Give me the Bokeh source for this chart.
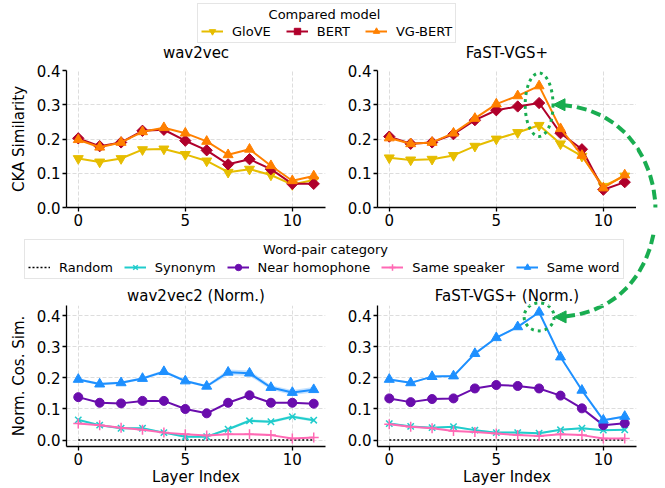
import numpy as np
from bokeh.plotting import figure
from bokeh.layouts import column, row
from bokeh.models import (Range1d, FixedTicker, PrintfTickFormatter, Legend, LegendItem,
                          Label, Arrow, NormalHead, ColumnDataSource)
from bokeh.embed import file_html
from bokeh.resources import INLINE

# ---------------- data ----------------
layers = [0, 1, 2, 3, 4, 5, 6, 7, 8, 9, 10, 11]
x_ticks = [0, 5, 10]
y_ticks = [0.0, 0.1, 0.2, 0.3, 0.4]

# CKA similarity (top row)
glove_w2v = [0.143, 0.133, 0.143, 0.169, 0.171, 0.155, 0.136, 0.103, 0.112, 0.095, 0.067, 0.080]
bert_w2v = [0.202, 0.179, 0.190, 0.224, 0.227, 0.195, 0.167, 0.126, 0.141, 0.112, 0.069, 0.069]
vgbert_w2v = [0.198, 0.176, 0.190, 0.221, 0.233, 0.217, 0.193, 0.154, 0.170, 0.122, 0.078, 0.092]
glove_fast = [0.145, 0.139, 0.141, 0.152, 0.179, 0.200, 0.219, 0.240, 0.186, 0.150, 0.062, 0.092]
bert_fast = [0.207, 0.186, 0.190, 0.214, 0.255, 0.284, 0.295, 0.305, 0.217, 0.170, 0.052, 0.074]
vgbert_fast = [0.203, 0.186, 0.190, 0.217, 0.260, 0.302, 0.326, 0.355, 0.230, 0.152, 0.057, 0.095]

# Normalised cosine similarity (bottom row)
rand_w2v2 = [0.0, 0.0, 0.0, 0.0, 0.0, 0.0, 0.0, 0.0, 0.0, 0.0, 0.0, 0.0]
syn_w2v2 = [0.065, 0.048, 0.038, 0.038, 0.024, 0.011, 0.011, 0.035, 0.062, 0.059, 0.075, 0.064]
nh_w2v2 = [0.138, 0.120, 0.118, 0.126, 0.126, 0.100, 0.086, 0.120, 0.144, 0.120, 0.120, 0.117]
ss_w2v2 = [0.053, 0.048, 0.040, 0.033, 0.024, 0.019, 0.015, 0.019, 0.019, 0.016, 0.005, 0.008]
sw_w2v2 = [0.195, 0.180, 0.184, 0.198, 0.220, 0.190, 0.173, 0.218, 0.215, 0.169, 0.153, 0.162]
sw_w2v2_err = [0.004, 0.004, 0.004, 0.004, 0.005, 0.004, 0.004, 0.009, 0.009, 0.007, 0.008, 0.009]
syn_w2v2_err = [0.004, 0.003, 0.003, 0.003, 0.003, 0.003, 0.003, 0.004, 0.005, 0.005, 0.005, 0.005]

rand_fast = [0.0, 0.0, 0.0, 0.0, 0.0, 0.0, 0.0, 0.0, 0.0, 0.0, 0.0, 0.0]
syn_fast = [0.053, 0.044, 0.040, 0.043, 0.032, 0.024, 0.024, 0.022, 0.033, 0.038, 0.032, 0.033]
nh_fast = [0.134, 0.122, 0.132, 0.134, 0.166, 0.177, 0.174, 0.166, 0.143, 0.102, 0.048, 0.054]
ss_fast = [0.051, 0.043, 0.038, 0.029, 0.026, 0.021, 0.016, 0.013, 0.019, 0.016, 0.005, 0.005]
sw_fast = [0.195, 0.184, 0.204, 0.206, 0.278, 0.329, 0.364, 0.411, 0.267, 0.160, 0.064, 0.076]
sw_fast_err = [0.003, 0.003, 0.003, 0.003, 0.003, 0.003, 0.003, 0.003, 0.003, 0.003, 0.003, 0.003]
syn_fast_err = [0.003, 0.003, 0.003, 0.003, 0.003, 0.003, 0.003, 0.003, 0.003, 0.003, 0.003, 0.003]

# ---------------- style ----------------
FONT = "DejaVu Sans"
C_GLOVE, C_BERT, C_VG = "#e6bd00", "#b0002b", "#ff8000"
C_RAND, C_SYN, C_NH, C_SS, C_SW = "black", "#20cccc", "#6a0dad", "#ff69b4", "#1e90ff"
GREEN = "#19ad50"

XMIN, XMAX = -0.55, 11.55
TOP_Y = (0.0, 0.4)
BOT_Y = (-0.0206, 0.4326)

FRAME_W = 259
TL_W, TR_W, STRIP_W = 340, 296, 29
BL_W, BR_W = 340, 325
TOTAL_W = TL_W + TR_W + STRIP_W
L1_H, TOP_H, L2_H, BOT_H = 61, 173, 71, 183
LB_L, LB_R = 66, 15       # left panels borders
RB_L = 37                 # right panels left border
TB_T, TB_B = 9, 27        # top panels borders
BB_T, BB_B = 0, 42        # bottom panels borders


def panel(width, bl, br, height, bt, bb, yr, ylabel=None, xlabel=None):
    p = figure(width=width, height=height, x_range=Range1d(XMIN, XMAX), y_range=Range1d(*yr),
               min_border_left=bl, min_border_right=br, min_border_top=bt, min_border_bottom=bb,
               output_backend="svg", toolbar_location=None)
    p.outline_line_color = None
    p.xaxis.ticker = FixedTicker(ticks=x_ticks)
    p.yaxis.ticker = FixedTicker(ticks=y_ticks)
    p.yaxis.formatter = PrintfTickFormatter(format="%.1f")
    for ax in p.axis:
        ax.axis_line_color = "black"
        ax.axis_line_width = 1.3
        ax.major_tick_line_color = "black"
        ax.major_tick_line_width = 1.3
        ax.major_tick_out = 4
        ax.major_tick_in = 0
        ax.minor_tick_line_color = None
        ax.major_label_text_font = FONT
        ax.major_label_text_font_size = "15px"
        ax.major_label_text_color = "black"
        ax.major_label_standoff = 2
        ax.axis_label_text_font = FONT
        ax.axis_label_text_font_size = "15px"
        ax.axis_label_text_font_style = "normal"
        ax.axis_label_text_color = "black"
    p.xaxis.axis_label_standoff = 0
    p.yaxis.axis_label_standoff = 6
    if ylabel:
        p.yaxis.axis_label = ylabel
    if xlabel:
        p.xaxis.axis_label = xlabel
    p.grid.grid_line_color = "#d4d4d4"
    p.grid.grid_line_dash = "4 2"
    p.grid.grid_line_width = 0.8
    return p


def series(p, ys, color, marker, size, angle=0.0, lw=2, mlw=1, fill=True):
    p.line(layers, ys, line_color=color, line_width=lw)
    p.scatter(layers, ys, marker=marker, size=size, angle=angle, line_color=color,
              fill_color=color if fill else None, line_width=mlw)


def band(p, ys, err, color):
    lo = [a - b for a, b in zip(ys, err)]
    hi = [a + b for a, b in zip(ys, err)]
    p.varea(x=layers, y1=lo, y2=hi, fill_color=color, fill_alpha=0.25)


def blank_fig(w, h):
    p = figure(width=w, height=h, x_range=Range1d(0, w), y_range=Range1d(0, h),
               x_axis_location=None, y_axis_location=None,
               min_border=0, output_backend="svg", toolbar_location=None)
    p.outline_line_color = None
    p.grid.visible = False
    return p


def caption(p, x, y, text, size):
    p.add_layout(Label(x=x, y=y, text=text, text_align="center", text_baseline="middle",
                       text_font=FONT, text_font_size=size, text_color="black", level="overlay"))


# ---------------- top row ----------------
tl = panel(TL_W, LB_L, LB_R, TOP_H, TB_T, TB_B, TOP_Y, ylabel="CKA Similarity")
tr = panel(TR_W, RB_L, 0, TOP_H, TB_T, TB_B, TOP_Y)
for p, g, b, v in ((tl, glove_w2v, bert_w2v, vgbert_w2v), (tr, glove_fast, bert_fast, vgbert_fast)):
    series(p, g, C_GLOVE, "inverted_triangle", 10)
    series(p, b, C_BERT, "square", 8, angle=np.pi / 4)
    series(p, v, C_VG, "triangle", 10)
strip = blank_fig(STRIP_W, TOP_H)

# ---------------- bottom row ----------------
bl = panel(BL_W, LB_L, LB_R, BOT_H, BB_T, BB_B, BOT_Y, ylabel="Norm. Cos. Sim.", xlabel="Layer Index")
br = panel(BR_W, RB_L, BR_W - RB_L - FRAME_W, BOT_H, BB_T, BB_B, BOT_Y, xlabel="Layer Index")
for p, rnd, syn, nh, ss, sw, swe, syne in (
        (bl, rand_w2v2, syn_w2v2, nh_w2v2, ss_w2v2, sw_w2v2, sw_w2v2_err, syn_w2v2_err),
        (br, rand_fast, syn_fast, nh_fast, ss_fast, sw_fast, sw_fast_err, syn_fast_err)):
    band(p, sw, swe, C_SW)
    band(p, syn, syne, C_SYN)
    p.line(layers, rnd, line_color=C_RAND, line_width=1.5, line_dash="2 2")
    series(p, syn, C_SYN, "x", 9, mlw=1.5, fill=False)
    series(p, nh, C_NH, "circle", 9)
    series(p, ss, C_SS, "cross", 10, mlw=1.5, fill=False)
    series(p, sw, C_SW, "triangle", 10)

# ---------------- dotted ellipses ----------------
pk = int(np.argmax(sw_fast))
top_cy = float(np.mean([glove_fast[pk], bert_fast[pk], vgbert_fast[pk]]))
top_w, top_h = 1.3, 0.185
bot_cy = sw_fast[pk] - 0.015
bot_w, bot_h = 1.4, 0.09
tr.ellipse(x=[layers[pk]], y=[top_cy], width=top_w, height=top_h, fill_color=None,
           line_color=GREEN, line_width=3, line_dash="3 4")
br.ellipse(x=[layers[pk]], y=[bot_cy], width=bot_w, height=bot_h, fill_color=None,
           line_color=GREEN, line_width=3, line_dash="3 4")


# ---------------- legends ----------------
def item(p, label, color, marker=None, size=10, angle=0.0, dash="solid", mlw=1, fill=True, lw=2):
    rs = [p.line([-100, -99], [-100, -100], line_color=color, line_width=lw, line_dash=dash)]
    if marker:
        rs.append(p.scatter([-100], [-100], marker=marker, size=size, angle=angle, line_color=color,
                            fill_color=color if fill else None, line_width=mlw))
    return LegendItem(label=label, renderers=rs)


def make_legend(p, items, loc, spacing):
    lg = Legend(items=items, orientation="horizontal", location=loc, title=" ",
                label_text_font=FONT, label_text_font_size="13px", label_text_color="black",
                title_text_font=FONT, title_text_font_size="13px", title_standoff=1,
                glyph_width=22, glyph_height=16, label_height=16, label_standoff=9,
                spacing=spacing, padding=3, margin=0, border_line_color="#cccccc",
                border_line_width=1, background_fill_alpha=0)
    p.add_layout(lg)
    return lg


leg1 = blank_fig(TOTAL_W, L1_H)
make_legend(leg1, [item(leg1, "GloVE", C_GLOVE, "inverted_triangle"),
                   item(leg1, "BERT", C_BERT, "square", 8, np.pi / 4),
                   item(leg1, "VG-BERT", C_VG, "triangle")], (197, L1_H - 43), 15)
caption(leg1, 324, L1_H - 14, "Compared model", "13px")
# titles of the top panels (placed above their frames)
caption(leg1, LB_L + FRAME_W / 2, 9, "wav2vec", "15px")
caption(leg1, TL_W + RB_L + FRAME_W / 2, 9, "FaST-VGS+", "15px")

leg2 = blank_fig(TOTAL_W, L2_H)
make_legend(leg2, [item(leg2, "Random", C_RAND, dash="2 2", lw=1.5),
                   item(leg2, "Synonym", C_SYN, "x", 9, mlw=1.5, fill=False),
                   item(leg2, "Near homophone", C_NH, "circle", 9),
                   item(leg2, "Same speaker", C_SS, "cross", 10, mlw=1.5, fill=False),
                   item(leg2, "Same word", C_SW, "triangle")], (24, 26), 11)
caption(leg2, 325, 56, "Word-pair category", "13px")
# titles of the bottom panels (placed above their frames)
caption(leg2, LB_L + FRAME_W / 2, 10, "wav2vec2 (Norm.)", "15px")
caption(leg2, TL_W + RB_L + FRAME_W / 2, 10, "FaST-VGS+ (Norm.)", "15px")

# ---------------- curved dashed double arrow (page geometry) ----------------
fig_origin = {
    "tr": (TL_W, L1_H),
    "s1": (TL_W + TR_W, L1_H),
    "l2": (0, L1_H + TOP_H),
    "br": (BL_W, L1_H + TOP_H + L2_H),
}
fig_size = {"tr": (TR_W, TOP_H), "s1": (STRIP_W, TOP_H), "l2": (TOTAL_W, L2_H), "br": (BR_W, BOT_H)}
figs = {"tr": tr, "s1": strip, "l2": leg2, "br": br}

fr_left = TL_W + RB_L
tr_top = L1_H + TB_T
tr_fh = TOP_H - TB_T - TB_B
br_top = L1_H + TOP_H + L2_H + BB_T
br_fh = BOT_H - BB_T - BB_B
bot_span = BOT_Y[1] - BOT_Y[0]


def page_x(x):
    return fr_left + (x - XMIN) / (XMAX - XMIN) * FRAME_W


# part of the lower ellipse that rises above the bottom-right frame
ell_cy_page = br_top + (BOT_Y[1] - bot_cy) / bot_span * br_fh
leg2.ellipse(x=[page_x(layers[pk])], y=[L2_H - (ell_cy_page - fig_origin["l2"][1])],
             width=bot_w / (XMAX - XMIN) * FRAME_W, height=bot_h / bot_span * br_fh,
             fill_color=None, line_color=GREEN, line_width=3, line_dash="3 4")

p0 = np.array([page_x(layers[pk] + top_w / 2), tr_top + (TOP_Y[1] - top_cy) / (TOP_Y[1] - TOP_Y[0]) * tr_fh])
p3 = np.array([page_x(layers[pk] + bot_w / 2), ell_cy_page])
k = 136.0
p1 = p0 + np.array([k, 0.0])
p2 = p3 + np.array([k, 0.0])
t = np.linspace(0, 1, 800)[:, None]
curve = ((1 - t) ** 3) * p0 + 3 * (1 - t) ** 2 * t * p1 + 3 * (1 - t) * t ** 2 * p2 + t ** 3 * p3
seg = np.hypot(np.diff(curve[:, 0]), np.diff(curve[:, 1]))
s = np.concatenate([[0], np.cumsum(seg)])
L = s[-1]
DASH, GAP = 10.0, 5.0
segs = []
a = 9.0
while a < L - 9.0:
    b = min(a + DASH, L - 9.0)
    segs.append((np.interp(a, s, curve[:, 0]), np.interp(a, s, curve[:, 1]),
                 np.interp(b, s, curve[:, 0]), np.interp(b, s, curve[:, 1])))
    a += DASH + GAP

for key, p in figs.items():
    ox, oy = fig_origin[key]
    w, h = fig_size[key]
    d = dict(x0=[], y0=[], x1=[], y1=[])
    for (xa, ya, xb, yb) in segs:
        if max(xa, xb) >= ox - 4 and min(xa, xb) <= ox + w + 4 and max(ya, yb) >= oy - 4 and min(ya, yb) <= oy + h + 4:
            d["x0"].append(xa - ox)
            d["y0"].append(ya - oy)
            d["x1"].append(xb - ox)
            d["y1"].append(yb - oy)
    if d["x0"]:
        p.add_layout(Arrow(start=None, end=None, x_start="x0", y_start="y0", x_end="x1", y_end="y1",
                           start_units="canvas", end_units="canvas", source=ColumnDataSource(d),
                           line_color=GREEN, line_width=4, level="overlay"))

for key, tip in (("tr", p0), ("br", p3)):
    ox, oy = fig_origin[key]
    figs[key].add_layout(Arrow(x_start=float(tip[0] - ox + 12), y_start=float(tip[1] - oy),
                               x_end=float(tip[0] - ox), y_end=float(tip[1] - oy),
                               start_units="canvas", end_units="canvas", start=None,
                               end=NormalHead(size=12, fill_color=GREEN, line_color=GREEN),
                               line_color=GREEN, line_width=3, level="overlay"))

layout = column(leg1, row(tl, tr, strip), leg2, row(bl, br))
open("out.html", "w").write(file_html(layout, INLINE))
